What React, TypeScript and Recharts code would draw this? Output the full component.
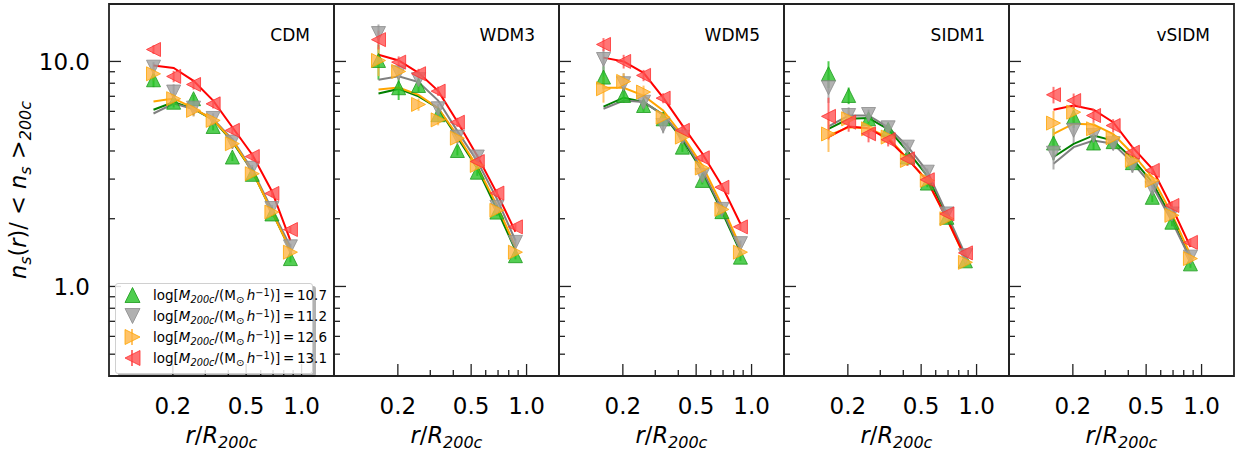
import React from "react";
import { ComposedChart, Line, Scatter, XAxis, YAxis, ErrorBar, ReferenceArea } from "recharts";

// bin centres in r/R200c (same for every panel)
const radius = [0.157, 0.202, 0.259, 0.331, 0.421, 0.54, 0.69, 0.87];
const models = ["CDM", "WDM3", "WDM5", "SIDM1", "vSIDM"];
const massBins = ["10.7", "11.2", "12.6", "13.1"];
const xMajorTicks = [0.2, 0.5, 1.0];
const xMinorTicks = [0.3, 0.4, 0.6, 0.7, 0.8, 0.9];
const yMajorTicks = [1, 10];
const yMinorTicks = [0.5, 0.6, 0.7, 0.8, 0.9, 2, 3, 4, 5, 6, 7, 8, 9];

// rows: mass bins 10.7, 11.2, 12.6, 13.1
const cdmPoints = [
  [8.29, 6.59, 6.83, 5.14, 3.76, 3.15, 2.1, 1.33],
  [9.43, 7.31, 6.2, 5.58, 4.38, 3.35, 2.22, 1.5],
  [8.81, 6.83, 6.06, 5.47, 4.31, 3.17, 2.14, 1.42],
  [11.3, 8.58, 7.9, 6.48, 4.94, 3.78, 2.59, 1.79],
];
const cdmFits = [
  [6.1, 6.6, 6.15, 5.5, 4.4, 3.25, 2.15, 1.45],
  [5.87, 6.5, 6.15, 5.55, 4.5, 3.3, 2.2, 1.5],
  [6.63, 6.85, 6.2, 5.5, 4.45, 3.25, 2.15, 1.45],
  [9.6, 9.35, 8.2, 6.7, 5.1, 3.85, 2.65, 1.6],
];
const cdmErrors = [
  [0.6, 0.35, 0.3, 0.2, 0.15, 0.1, 0.06, 0.05],
  [0.5, 0.6, 0.5, 0.3, 0.2, 0.12, 0.08, 0.05],
  [0.6, 0.4, 0.35, 0.25, 0.2, 0.12, 0.08, 0.05],
  [0.5, 0.5, 0.4, 0.3, 0.2, 0.15, 0.1, 0.06],
];

const wdm3Points = [
  [10.1, 7.64, 7.82, 5.8, 4.02, 3.22, 2.14, 1.37],
  [13.3, 8.9, 8.3, 6.16, 4.61, 3.76, 2.25, 1.57],
  [10.1, 9.03, 6.44, 5.5, 4.56, 3.45, 2.18, 1.42],
  [12.5, 9.93, 8.82, 7.38, 5.37, 3.59, 2.6, 1.84],
];
const wdm3Fits = [
  [7.2, 7.55, 7.0, 6.2, 4.6, 3.35, 2.2, 1.45],
  [8.3, 8.6, 8.1, 6.7, 4.9, 3.6, 2.45, 1.6],
  [7.5, 7.65, 7.1, 6.2, 4.7, 3.4, 2.3, 1.5],
  [10.7, 10.1, 8.9, 7.4, 5.4, 3.8, 2.6, 1.75],
];
const wdm3Errors = [
  [1.8, 0.9, 0.5, 0.3, 0.2, 0.12, 0.08, 0.05],
  [1.3, 0.6, 0.4, 0.3, 0.2, 0.12, 0.08, 0.05],
  [1.5, 0.7, 0.4, 0.3, 0.2, 0.15, 0.08, 0.05],
  [1.2, 0.6, 0.45, 0.35, 0.25, 0.15, 0.1, 0.06],
];

const wdm5Points = [
  [8.52, 7.06, 6.37, 5.56, 4.16, 2.96, 2.15, 1.35],
  [10.2, 7.96, 6.59, 5.19, 4.6, 3.11, 2.2, 1.55],
  [7.56, 8.15, 7.31, 5.65, 4.61, 3.36, 2.2, 1.42],
  [11.9, 10.0, 8.67, 6.87, 4.94, 3.73, 2.76, 1.84],
];
const wdm5Fits = [
  [6.3, 6.9, 6.6, 5.8, 4.5, 3.25, 2.15, 1.42],
  [6.16, 6.7, 6.6, 5.8, 4.6, 3.3, 2.2, 1.45],
  [7.64, 7.64, 7.05, 6.06, 4.7, 3.45, 2.3, 1.5],
  [10.4, 10.0, 8.9, 6.9, 5.2, 3.9, 2.8, 1.9],
];
const wdm5Errors = [
  [1.0, 0.5, 0.4, 0.3, 0.2, 0.12, 0.08, 0.05],
  [1.2, 0.9, 0.5, 0.4, 0.3, 0.15, 0.08, 0.05],
  [1.0, 0.7, 0.5, 0.3, 0.25, 0.15, 0.08, 0.05],
  [0.8, 0.7, 0.5, 0.35, 0.25, 0.15, 0.1, 0.06],
];

const sidm1Points = [
  [8.82, 7.06, 5.56, 5.0, 3.76, 2.88, 2.03, 1.3],
  [7.64, 5.75, 5.81, 5.07, 4.16, 3.22, 2.1, 1.37],
  [4.76, 5.56, 5.02, 4.61, 3.63, 2.96, 2.0, 1.28],
  [5.7, 5.37, 4.77, 4.49, 3.69, 2.98, 2.1, 1.41],
];
const sidm1Fits = [
  [5.02, 5.56, 5.6, 5.0, 4.0, 3.1, 2.05, 1.35],
  [5.14, 5.75, 5.75, 5.1, 4.2, 3.25, 2.1, 1.38],
  [4.69, 5.1, 5.05, 4.6, 3.7, 2.95, 2.0, 1.33],
  [4.61, 5.14, 5.05, 4.5, 3.7, 2.95, 2.0, 1.34],
];
const sidm1Errors = [
  [1.2, 0.6, 0.3, 0.25, 0.2, 0.12, 0.08, 0.05],
  [1.1, 0.5, 0.3, 0.25, 0.2, 0.12, 0.08, 0.05],
  [0.8, 0.5, 0.3, 0.25, 0.2, 0.12, 0.08, 0.05],
  [1.2, 0.5, 0.4, 0.3, 0.25, 0.15, 0.1, 0.06],
];

const vsidmPoints = [
  [4.34, 5.66, 4.34, 4.4, 3.55, 2.49, 1.93, 1.26],
  [3.91, 4.94, 4.69, 4.31, 3.45, 2.72, 2.1, 1.35],
  [5.32, 5.95, 5.02, 4.58, 3.63, 2.96, 2.07, 1.33],
  [7.11, 6.7, 5.75, 5.19, 3.95, 3.28, 2.29, 1.57],
];
const vsidmFits = [
  [3.76, 4.3, 4.69, 4.45, 3.7, 2.9, 2.0, 1.33],
  [3.51, 4.16, 4.45, 4.31, 3.55, 2.8, 1.95, 1.32],
  [4.76, 5.29, 5.25, 4.76, 3.9, 3.05, 2.1, 1.38],
  [6.1, 6.37, 6.1, 5.37, 4.16, 3.33, 2.25, 1.5],
];
const vsidmErrors = [
  [0.7, 0.6, 0.3, 0.25, 0.2, 0.12, 0.08, 0.05],
  [0.6, 0.6, 0.3, 0.25, 0.25, 0.15, 0.08, 0.05],
  [0.7, 0.5, 0.35, 0.25, 0.2, 0.15, 0.08, 0.05],
  [0.6, 0.5, 0.4, 0.35, 0.25, 0.15, 0.1, 0.06],
];

const panels = [
  { points: cdmPoints, fits: cdmFits, errors: cdmErrors },
  { points: wdm3Points, fits: wdm3Fits, errors: wdm3Errors },
  { points: wdm5Points, fits: wdm5Fits, errors: wdm5Errors },
  { points: sidm1Points, fits: sidm1Fits, errors: sidm1Errors },
  { points: vsidmPoints, fits: vsidmFits, errors: vsidmErrors },
];

const styles = [
  { kind: "up", line: "#008000", fill: "#22c022", edge: "#1a9a1a" },
  { kind: "down", line: "#808080", fill: "#9c9c9c", edge: "#8c8c8c" },
  { kind: "right", line: "#ffa500", fill: "#ffb444", edge: "#ffa500" },
  { kind: "left", line: "#ff0000", fill: "#ff5050", edge: "#ff3030" },
];

const FONT = "DejaVu Sans";
const PLOT_LEFT = 109;
const PANEL_W = 225;
const PAD = 6;
const TOP = 4;
const CHART_H = 452;
const X_AXIS_H = 76;
const X_DOMAIN = [0.09, 1.5];
const Y_DOMAIN = [0.4, 18];
const AXIS_COLOR = "#222";

function triangle(kind: string, cx: number, cy: number, s: number) {
  if (kind === "up") return `${cx},${cy - s} ${cx - s},${cy + s} ${cx + s},${cy + s}`;
  if (kind === "down") return `${cx},${cy + s} ${cx - s},${cy - s} ${cx + s},${cy - s}`;
  if (kind === "right") return `${cx + s},${cy} ${cx - s},${cy - s} ${cx - s},${cy + s}`;
  return `${cx - s},${cy} ${cx + s},${cy - s} ${cx + s},${cy + s}`;
}

function XTick(props: any) {
  const { x, y, payload } = props;
  const major = xMajorTicks.includes(payload.value);
  return (
    <g>
      <line x1={x} x2={x} y1={y} y2={y - (major ? 12 : 6)} stroke={AXIS_COLOR} strokeWidth={1.3} />
      {major && (
        <text x={x} y={y + 37.5} textAnchor="middle" fontSize={23} fontFamily={FONT} fill="#000">
          {Number(payload.value).toFixed(1)}
        </text>
      )}
    </g>
  );
}

function makeYTick(showLabel: boolean) {
  return (props: any) => {
    const { x, y, payload } = props;
    const major = yMajorTicks.includes(payload.value);
    return (
      <g>
        <line x1={x} x2={x + (major ? 12 : 6)} y1={y} y2={y} stroke={AXIS_COLOR} strokeWidth={1.3} />
        {showLabel && major && (
          <text x={x - 19} y={y + 8.4} textAnchor="end" fontSize={23} fontFamily={FONT} fill="#000">
            {Number(payload.value).toFixed(1)}
          </text>
        )}
      </g>
    );
  };
}

function XTitle(props: any) {
  const vb = props.viewBox || {};
  const cx = vb.x + vb.width / 2;
  return (
    <text x={cx} y={443} textAnchor="middle" fontSize={22.5} fontFamily={FONT} fill="#000">
      <tspan fontStyle="italic">r</tspan>
      <tspan>/</tspan>
      <tspan fontStyle="italic">R</tspan>
      <tspan fontStyle="italic" fontSize={16} dy={5}>200c</tspan>
    </text>
  );
}

function YTitle() {
  return (
    <text transform="translate(26,190) rotate(-90)" textAnchor="middle" fontSize={22.5} fontFamily={FONT} fill="#000">
      <tspan fontStyle="italic">n</tspan>
      <tspan fontStyle="italic" fontSize={16} dy={5}>s</tspan>
      <tspan dy={-5}>(</tspan>
      <tspan fontStyle="italic">r</tspan>
      <tspan>{")/ < "}</tspan>
      <tspan fontStyle="italic">n</tspan>
      <tspan fontStyle="italic" fontSize={16} dy={5}>s</tspan>
      <tspan dy={-5}>{" >"}</tspan>
      <tspan fontStyle="italic" fontSize={16} dy={5}>200c</tspan>
    </text>
  );
}

function Panel({ index, points, fits, errors }: any) {
  const first = index === 0;
  const plotLeft = PLOT_LEFT + index * PANEL_W;
  const chartLeft = first ? 0 : plotLeft - PAD;
  const width = first ? PLOT_LEFT + PANEL_W + PAD : PANEL_W + 2 * PAD;
  const yAxisWidth = first ? PLOT_LEFT : 1;

  return (
    <div style={{ position: "absolute", left: chartLeft, top: 0 }}>
      <ComposedChart
        width={width}
        height={CHART_H}
        margin={{ top: TOP, right: PAD, bottom: 0, left: first ? 0 : PAD - 1 }}
      >
        <XAxis
          xAxisId="b"
          type="number"
          dataKey="r"
          scale="log"
          domain={X_DOMAIN}
          allowDataOverflow
          ticks={[...xMajorTicks, ...xMinorTicks]}
          interval={0}
          tick={<XTick />}
          tickLine={false}
          tickSize={0}
          tickMargin={0}
          axisLine={false}
          height={X_AXIS_H}
          label={{ content: (p: any) => <XTitle viewBox={p.viewBox} /> }}
        />
        <YAxis
          yAxisId="l"
          type="number"
          dataKey="v"
          scale="log"
          domain={Y_DOMAIN}
          allowDataOverflow
          ticks={[...yMajorTicks, ...yMinorTicks]}
          interval={0}
          tick={makeYTick(first)}
          tickLine={false}
          tickSize={0}
          tickMargin={0}
          axisLine={false}
          width={yAxisWidth}
          label={first ? { content: () => <YTitle /> } : undefined}
        />
        {/* plot frame */}
        <ReferenceArea
          xAxisId="b"
          yAxisId="l"
          x1={X_DOMAIN[0]}
          x2={X_DOMAIN[1]}
          y1={Y_DOMAIN[0]}
          y2={Y_DOMAIN[1]}
          fill="none"
          fillOpacity={0}
          stroke={AXIS_COLOR}
          strokeWidth={1.8}
          ifOverflow="visible"
        />
        {styles.flatMap((st, k) => {
          const lineData = radius.map((r, j) => ({ r, v: fits[k][j] }));
          const pointData = radius.map((r, j) => ({ r, v: points[k][j], e: errors[k][j] }));
          return [
            <Line
              key={`line-${k}`}
              xAxisId="b"
              yAxisId="l"
              data={lineData}
              dataKey="v"
              type="linear"
              stroke={st.line}
              strokeWidth={2}
              dot={false}
              activeDot={false}
              isAnimationActive={false}
            />,
            <Scatter
              key={`pts-${k}`}
              xAxisId="b"
              yAxisId="l"
              data={pointData}
              dataKey="v"
              isAnimationActive={false}
              shape={(p: any) => (
                <polygon
                  points={triangle(st.kind, p.cx, p.cy, 7)}
                  fill={st.fill}
                  fillOpacity={0.78}
                  stroke={st.edge}
                  strokeOpacity={0.8}
                  strokeWidth={1}
                />
              )}
            >
              <ErrorBar dataKey="e" direction="y" width={0} stroke={st.fill} strokeOpacity={0.8} strokeWidth={2} />
            </Scatter>,
          ];
        })}
      </ComposedChart>
    </div>
  );
}

const subStyle: React.CSSProperties = {
  fontSize: "0.72em",
  lineHeight: 0,
  position: "relative",
  top: "0.3em",
  verticalAlign: "baseline",
};
const supStyle: React.CSSProperties = {
  fontSize: "0.72em",
  lineHeight: 0,
  position: "relative",
  top: "-0.4em",
  verticalAlign: "baseline",
};

function LegendBox() {
  return (
    <div
      style={{
        position: "absolute",
        left: 115,
        top: 283,
        width: 196,
        height: 89,
        background: "rgba(255,255,255,0.85)",
        border: "1px solid #d0d0d0",
        borderRadius: 3,
        boxShadow: "3px 3px 0 rgba(0,0,0,0.3)",
        fontFamily: FONT,
        fontSize: 13.5,
        color: "#000",
      }}
    >
      {massBins.map((m, i) => {
        const st = styles[i];
        return (
          <div key={m} style={{ position: "absolute", left: 0, top: 11 + 21 * i - 10, height: 20, width: 196 }}>
            <svg width={24} height={20} style={{ position: "absolute", left: 4, top: 0 }}>
              {i > 1 && <line x1={12} x2={12} y1={2} y2={18} stroke={st.fill} strokeWidth={2} strokeOpacity={0.8} />}
              <polygon
                points={triangle(st.kind, 12.5, 10, 7.5)}
                fill={st.fill}
                fillOpacity={0.8}
                stroke={st.edge}
                strokeOpacity={0.8}
              />
            </svg>
            <div style={{ position: "absolute", left: 37, top: 0, lineHeight: "20px", whiteSpace: "nowrap" }}>
              log[<i>M</i>
              <span style={subStyle}>
                <i>200c</i>
              </span>
              /(M<span style={subStyle}>⊙</span>
              {"\u2009"}
              <i>h</i>
              <span style={supStyle}>−1</span>)]{"\u2009"}={"\u2009"}
              {m}
            </div>
          </div>
        );
      })}
    </div>
  );
}

export default function App() {
  return (
    <div
      style={{
        position: "absolute",
        left: 0,
        top: 0,
        width: 1237,
        height: 452,
        background: "#fff",
        fontFamily: FONT,
        overflow: "hidden",
      }}
    >
      {panels.map((p, i) => (
        <Panel key={models[i]} index={i} points={p.points} fits={p.fits} errors={p.errors} />
      ))}
      {models.map((name, i) => (
        <div
          key={name}
          style={{
            position: "absolute",
            left: PLOT_LEFT + (i + 1) * PANEL_W - 24 - 120,
            width: 120,
            top: 26.8,
            textAlign: "right",
            fontSize: 17,
            lineHeight: "17px",
            color: "#000",
          }}
        >
          {name}
        </div>
      ))}
      <LegendBox />
    </div>
  );
}
